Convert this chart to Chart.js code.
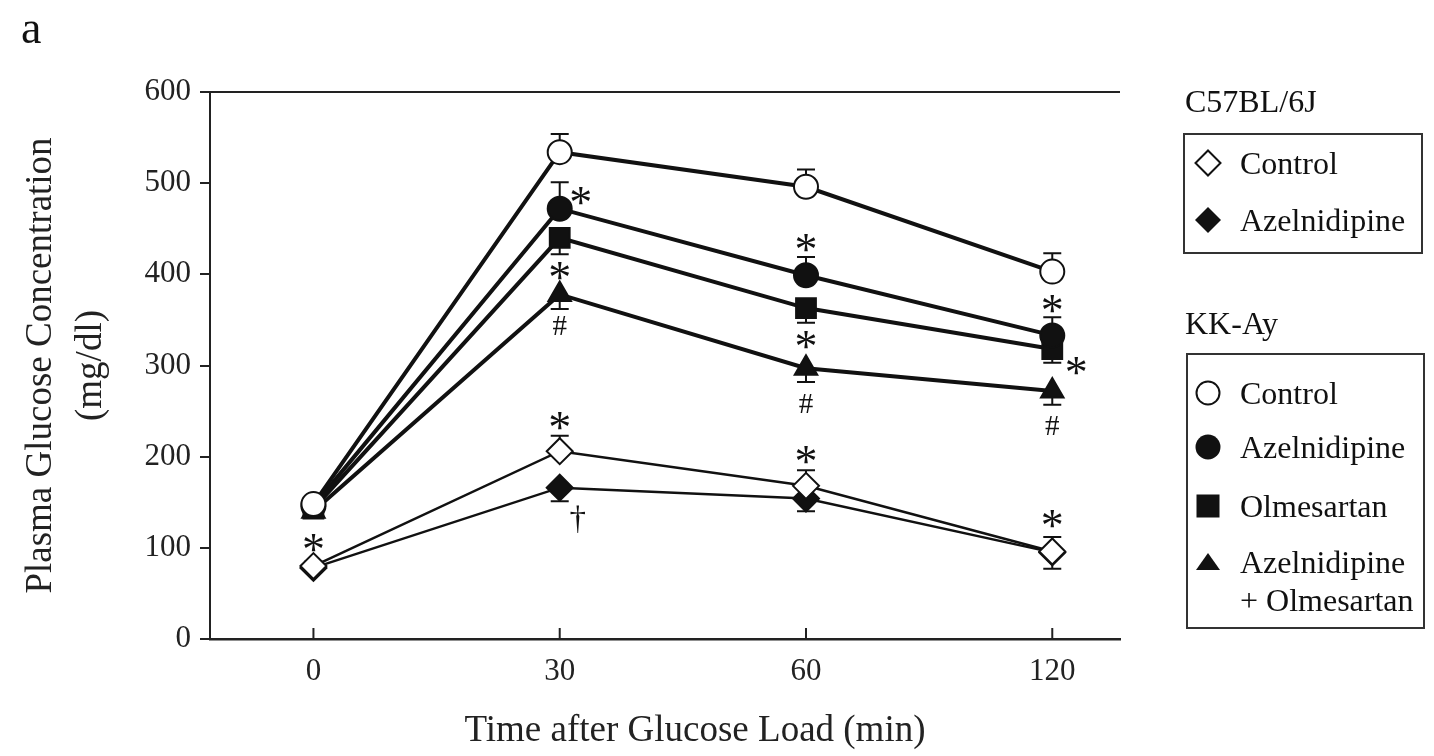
<!DOCTYPE html>
<html><head><meta charset="utf-8">
<script src="https://cdn.jsdelivr.net/npm/chart.js@4/dist/chart.umd.min.js"></script>
<style>
html,body{margin:0;padding:0;background:#fff;}
#wrap{position:relative;width:1434px;height:756px;font-family:"Liberation Serif","Times New Roman",serif;color:#111;overflow:hidden;}
canvas{position:absolute;left:0;top:0;}
.lbl{position:absolute;white-space:nowrap;line-height:1;}
.box{position:absolute;border:2px solid #333;box-sizing:border-box;}
.row{position:absolute;white-space:nowrap;font-size:32px;line-height:32px;}
.mk{position:absolute;}
</style></head><body>
<div id="wrap">
<canvas id="c" width="1434" height="756"></canvas>
<div class="lbl" style="left:21px;top:5px;font-size:46px;">a</div>
<div class="lbl" style="left:1185px;top:85px;font-size:32px;">C57BL/6J</div>
<div class="box" style="left:1183px;top:133px;width:240px;height:121px;"></div>
<svg class="mk" style="left:1194px;top:149px" width="28" height="28"><polygon points="14,1.5 26.5,14 14,26.5 1.5,14" fill="#fff" stroke="#111" stroke-width="2"/></svg>
<div class="row" style="left:1240px;top:147px;">Control</div>
<svg class="mk" style="left:1194px;top:206px" width="28" height="28"><polygon points="14,1 27,14 14,27 1,14" fill="#111"/></svg>
<div class="row" style="left:1240px;top:204px;">Azelnidipine</div>
<div class="lbl" style="left:1185px;top:307px;font-size:32px;">KK-Ay</div>
<div class="box" style="left:1186px;top:353px;width:239px;height:276px;"></div>
<svg class="mk" style="left:1195px;top:380px" width="26" height="26"><circle cx="13" cy="13" r="11.5" fill="#fff" stroke="#111" stroke-width="2"/></svg>
<div class="row" style="left:1240px;top:377px;">Control</div>
<svg class="mk" style="left:1195px;top:434px" width="26" height="26"><circle cx="13" cy="13" r="12.5" fill="#111"/></svg>
<div class="row" style="left:1240px;top:431px;">Azelnidipine</div>
<svg class="mk" style="left:1196px;top:494px" width="24" height="24"><rect x="0.5" y="0.5" width="23" height="23" fill="#111"/></svg>
<div class="row" style="left:1240px;top:490px;">Olmesartan</div>
<svg class="mk" style="left:1195px;top:552px" width="26" height="20"><polygon points="13,1 25,18 1,18" fill="#111"/></svg>
<div class="row" style="left:1240px;top:546px;">Azelnidipine</div>
<div class="row" style="left:1240px;top:584px;">+ Olmesartan</div>
<div class="lbl" style="left:695px;top:710px;font-size:37px;transform:translateX(-50%);color:#222;">Time after Glucose Load (min)</div>
</div>
<script>
// ---- data ----
const timeLabels = ['0', '30', '60', '120'];
const timeIndex = [0, 1, 2, 3];

const kkControl      = [148, 534, 496, 403];
const kkControlErr   = [6, 20, 19, 20];
const kkAzel         = [146, 472, 399, 333];
const kkAzelErr      = [6, 29, 20, 20];
const kkOlm          = [143, 440, 363, 318];
const kkOlmErr       = [6, 18, 16, 15];
const kkAzelOlm      = [140, 378, 297, 272];
const kkAzelOlmErr   = [7, 16, 15, 15];
const c57Control     = [80, 206, 168, 96];
const c57ControlErr  = [5, 17, 17, 16];
const c57Azel        = [78, 166, 154, 95];
const c57AzelErr     = [4, 15, 14, 18];

const yTicks = [0, 100, 200, 300, 400, 500, 600];

// significance marks: [series, point, symbol, dx(px), dy(px)]
const marks = [
  [1, 1, '*', 21, -14],
  [2, 1, '*', 0, 32],
  [3, 1, '#', 0, 31],
  [1, 2, '*', 0, -33],
  [2, 2, '*', 0, 31],
  [3, 2, '#', 0, 35],
  [1, 3, '*', 0, -32],
  [2, 3, '*', 24, 16],
  [3, 3, '#', 0, 34],
  [4, 0, '*', 0, -24],
  [4, 1, '*', 0, -31],
  [5, 1, '\u2020', 18, 32],
  [4, 2, '*', 0, -32],
  [4, 3, '*', 0, -33]
];

const pts = arr => arr.map((v, i) => ({x: timeIndex[i], y: v}));
const INK = '#111';
const FONT = '"Liberation Serif", "Times New Roman", serif';

function ds(label, values, err, dir, style, radius, filled, lineW) {
  return {
    label, data: pts(values), err, errDir: dir,
    borderColor: INK, borderWidth: lineW, tension: 0,
    pointStyle: style, pointRadius: radius, pointHoverRadius: radius,
    pointBackgroundColor: filled ? INK : '#fff',
    pointBorderColor: INK, pointBorderWidth: 2, pointHoverBorderWidth: 2,
    fill: false, clip: false
  };
}

const datasets = [
  ds('KK-Ay Control', kkControl, kkControlErr, 1, 'circle', 12, false, 4),
  ds('KK-Ay Azelnidipine', kkAzel, kkAzelErr, 1, 'circle', 12, true, 4),
  ds('KK-Ay Olmesartan', kkOlm, kkOlmErr, -1, 'rect', 14, true, 4),
  ds('KK-Ay Azelnidipine + Olmesartan', kkAzelOlm, kkAzelOlmErr, -1, 'triangle', 13, true, 4),
  ds('C57BL/6J Control', c57Control, c57ControlErr, 1, 'rectRot', 13, false, 2.5),
  ds('C57BL/6J Azelnidipine', c57Azel, c57AzelErr, -1, 'rectRot', 13, true, 2.5)
];

const errPlugin = {
  id: 'errbars',
  beforeDatasetsDraw(chart) {
    const {ctx, scales: {x, y}} = chart;
    ctx.save();
    ctx.strokeStyle = INK; ctx.lineWidth = 2;
    chart.data.datasets.forEach(d => {
      d.data.forEach((p, j) => {
        const px = x.getPixelForValue(p.x);
        const py = y.getPixelForValue(p.y);
        const ey = y.getPixelForValue(p.y + d.errDir * d.err[j]);
        ctx.beginPath();
        ctx.moveTo(px, py); ctx.lineTo(px, ey);
        ctx.moveTo(px - 9, ey); ctx.lineTo(px + 9, ey);
        ctx.stroke();
      });
    });
    ctx.restore();
  }
};

const framePlugin = {
  id: 'frame',
  afterDraw(chart) {
    const {ctx, chartArea: a, scales: {x}} = chart;
    ctx.save();
    ctx.strokeStyle = '#222';
    ctx.lineWidth = 2;
    ctx.beginPath();
    ctx.moveTo(a.left - 3, a.top); ctx.lineTo(a.right, a.top);
    ctx.stroke();
    timeIndex.forEach(v => {
      const px = x.getPixelForValue(v);
      ctx.beginPath(); ctx.moveTo(px, a.bottom); ctx.lineTo(px, a.bottom - 11); ctx.stroke();
    });
    ctx.restore();
  }
};

const markPlugin = {
  id: 'marks',
  afterDatasetsDraw(chart) {
    const {ctx, scales: {x, y}} = chart;
    ctx.save();
    ctx.fillStyle = INK;
    ctx.textAlign = 'center';
    ctx.textBaseline = 'alphabetic';
    marks.forEach(([si, pi, sym, dx, dy]) => {
      const p = chart.data.datasets[si].data[pi];
      const cx = x.getPixelForValue(p.x) + dx;
      const cy = y.getPixelForValue(p.y) + dy;
      let fs, k;
      if (sym === '*') { fs = 46; k = 0.50; }
      else if (sym === '#') { fs = 29; k = 0.34; }
      else { fs = 33; k = 0.27; }
      ctx.font = fs + 'px ' + FONT;
      ctx.fillText(sym, cx, cy + k * fs);
    });
    ctx.restore();
  }
};

new Chart(document.getElementById('c'), {
  type: 'line',
  data: {datasets},
  plugins: [errPlugin, framePlugin, markPlugin],
  options: {
    responsive: false, animation: false, events: [],
    layout: {padding: {left: 0, top: 92, right: 314, bottom: 0}},
    plugins: {legend: {display: false}, tooltip: {enabled: false}},
    scales: {
      x: {
        type: 'linear', min: -0.42, max: 3.275,
        afterBuildTicks: s => { s.ticks = timeIndex.map(v => ({value: v})); },
        afterFit: s => { s.height = 117; },
        grid: {display: true, drawOnChartArea: false, drawTicks: false, color: 'rgba(0,0,0,0)'},
        border: {display: true, color: '#222', width: 2.5},
        ticks: {
          padding: 14, color: '#222', font: {family: FONT, size: 31},
          callback: v => timeLabels[timeIndex.indexOf(v)] ?? ''
        },
        title: {display: false}
      },
      y: {
        min: 0, max: 600,
        afterBuildTicks: s => { s.ticks = yTicks.map(v => ({value: v})); },
        afterFit: s => { s.width = 210; },
        grid: {display: true, drawOnChartArea: false, drawTicks: true, tickLength: 10, color: '#222', lineWidth: 2},
        border: {display: true, color: '#222', width: 2},
        ticks: {padding: 9, color: '#222', font: {family: FONT, size: 31}},
        title: {display: true, text: ['Plasma Glucose Concentration', '(mg/dl)'], color: '#222',
          font: {family: FONT, size: 37, lineHeight: 1.35}, padding: {top: 16, bottom: 0}}
      }
    }
  }
});
</script>
</body></html>
